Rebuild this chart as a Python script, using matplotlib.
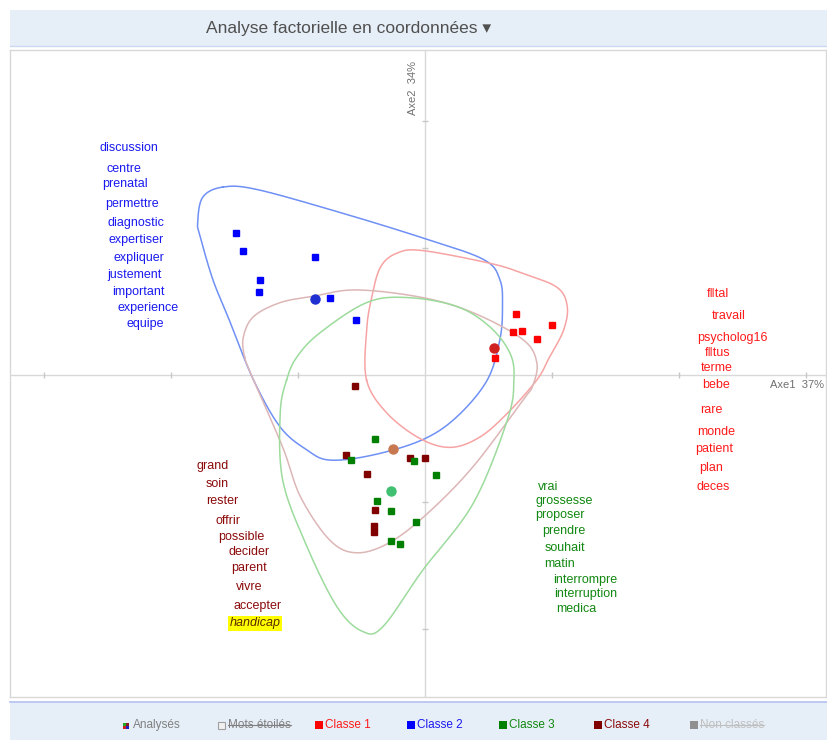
import numpy as np
import matplotlib
matplotlib.use("Agg")
import matplotlib.pyplot as plt
from matplotlib.patches import Rectangle
from matplotlib.transforms import offset_copy

# ---------------- data (factor coordinates) ----------------
blue_x = [-1.49, -1.43, -0.87, -1.30, -1.31, -0.75, -0.54]
blue_y = [1.12, 0.98, 0.93, 0.75, 0.65, 0.61, 0.43]
blue_c = (-0.87, 0.60)

red_x = [0.72, 1.00, 0.69, 0.76, 0.88, 0.55]
red_y = [0.48, 0.39, 0.34, 0.35, 0.28, 0.13]
red_c = (0.54, 0.21)

dred_x = [-0.55, -0.62, -0.12, 0.00, -0.46, -0.39, -0.40, -0.40]
dred_y = [-0.09, -0.63, -0.65, -0.65, -0.78, -1.06, -1.19, -1.24]
dred_c = (-0.25, -0.58)

green_x = [-0.39, -0.58, -0.09, 0.09, -0.38, -0.27, -0.07, -0.27, -0.20]
green_y = [-0.50, -0.67, -0.68, -0.79, -0.99, -1.07, -1.16, -1.31, -1.33]
green_c = (-0.27, -0.91)

# class envelopes (outline vertices)
blue_env_x = [-1.59, -1.32, -0.67, -0.02, 0.46, 0.59, 0.61, 0.59, 0.49, 0.25, -0.02,
              -0.41, -0.75, -0.93, -1.14, -1.35, -1.54, -1.67, -1.77, -1.79, -1.75]
blue_env_y = [1.48, 1.46, 1.28, 1.08, 0.91, 0.75, 0.54, 0.28, -0.04, -0.33, -0.51,
              -0.63, -0.67, -0.59, -0.41, -0.04, 0.43, 0.75, 1.09, 1.20, 1.40]
red_env_x = [-0.46, -0.46, -0.42, -0.35, -0.22, -0.02, 0.51, 0.77, 1.04, 1.12, 1.09,
             0.98, 0.88, 0.65, 0.43, 0.20, -0.04, -0.30]
red_env_y = [-0.04, 0.35, 0.61, 0.85, 0.96, 0.98, 0.88, 0.80, 0.69, 0.54, 0.35,
             0.14, -0.04, -0.30, -0.49, -0.57, -0.50, -0.30]
dred_env_x = [-1.42, -1.43, -1.35, -1.14, -0.88, -0.54, -0.02, 0.38, 0.77, 0.88, 0.85,
              0.77, 0.38, 0.02, -0.28, -0.54, -0.75, -0.98, -1.12, -1.35]
dred_env_y = [0.14, 0.30, 0.46, 0.57, 0.62, 0.67, 0.61, 0.49, 0.28, 0.10, -0.08,
              -0.20, -0.72, -1.09, -1.32, -1.40, -1.30, -0.96, -0.57, -0.04]
green_env_x = [-1.09, -1.01, -0.83, -0.46, -0.14, 0.25, 0.51, 0.67, 0.70, 0.65, 0.38,
               -0.02, -0.33, -0.49, -0.69, -0.93, -1.12, -1.14]
green_env_y = [-0.04, 0.14, 0.33, 0.57, 0.61, 0.54, 0.38, 0.17, -0.04, -0.35, -1.01,
               -1.54, -1.98, -2.02, -1.83, -1.35, -0.83, -0.30]

# word labels
blue_words = ["discussion", "centre", "prenatal", "permettre", "diagnostic", "expertiser",
              "expliquer", "justement", "important", "experience", "equipe"]
blue_wx = [-2.56, -2.51, -2.54, -2.52, -2.50, -2.49, -2.45, -2.50, -2.46, -2.42, -2.35]
blue_wy = [1.80, 1.64, 1.52, 1.36, 1.21, 1.08, 0.94, 0.80, 0.67, 0.54, 0.42]

red_words = ["f\u2016tal", "travail", "psycholog16", "f\u2016tus", "terme", "bebe", "rare",
             "monde", "patient", "plan", "deces"]
red_wx = [2.22, 2.26, 2.14, 2.20, 2.17, 2.18, 2.17, 2.14, 2.13, 2.16, 2.14]
red_wy = [0.65, 0.48, 0.31, 0.19, 0.07, -0.06, -0.26, -0.43, -0.57, -0.72, -0.87]

dred_words = ["grand", "soin", "rester", "offrir", "possible", "decider", "parent",
              "vivre", "accepter", "handicap"]
dred_wx = [-1.80, -1.73, -1.72, -1.65, -1.63, -1.55, -1.53, -1.49, -1.51, -1.54]
dred_wy = [-0.70, -0.84, -0.98, -1.13, -1.26, -1.38, -1.50, -1.65, -1.80, -1.94]

green_words = ["vrai", "grossesse", "proposer", "prendre", "souhait", "matin",
               "interrompre", "interruption", "medica"]
green_wx = [0.89, 0.87, 0.87, 0.92, 0.94, 0.94, 1.01, 1.02, 1.03]
green_wy = [-0.87, -0.98, -1.09, -1.21, -1.35, -1.47, -1.60, -1.71, -1.83]

highlight_word = "handicap"
axis1_label = "Axe1  37%"
axis2_label = "Axe2  34%"
title = "Analyse factorielle en coordonnées \u25BE"
legend_labels = ["Analysés", "Mots étoilés", "Classe 1", "Classe 2", "Classe 3", "Classe 4", "Non classés"]

# ---------------- helpers ----------------
def smooth_closed(xs, ys, n=24):
    P = np.column_stack([xs, ys])
    m = len(P)
    t = np.linspace(0, 1, n, endpoint=False)[:, None]
    segs = []
    for i in range(m):
        p0, p1, p2, p3 = P[(i - 1) % m], P[i], P[(i + 1) % m], P[(i + 2) % m]
        pts = 0.5 * ((2 * p1) + (-p0 + p2) * t + (2 * p0 - 5 * p1 + 4 * p2 - p3) * t ** 2
                     + (-p0 + 3 * p1 - 3 * p2 + p3) * t ** 3)
        segs.append(pts)
    out = np.vstack(segs + [segs[0][:1]])
    return out[:, 0], out[:, 1]

W, H = 828, 740
fig = plt.figure(figsize=(W / 100, H / 100), dpi=100)
fig.patch.set_facecolor("white")

def fx(px):
    return px / W

def fy(py):
    return 1 - py / H

SANS = ["Liberation Sans", "DejaVu Sans"]

# header band
fig.patches.append(Rectangle((fx(10), fy(46)), fx(818), 36 / H, transform=fig.transFigure,
                             facecolor="#e6eef7", edgecolor="none", zorder=0))
fig.lines.append(plt.Line2D([fx(10), fx(828)], [fy(46), fy(46)], transform=fig.transFigure,
                            color="#cdd8f2", lw=1))
fig.text(fx(349), fy(28), title, ha="center", va="center", fontsize=12.5,
         color="#505050", family=SANS)

# footer band
fig.patches.append(Rectangle((fx(10), 0), fx(818), 38 / H, transform=fig.transFigure,
                             facecolor="#e6eef7", edgecolor="none", zorder=0))
fig.lines.append(plt.Line2D([fx(10), fx(828)], [fy(702), fy(702)], transform=fig.transFigure,
                            color="#b4c0f2", lw=1.2))

# main axes
x0, x1 = (10 - 425) / 127, (826 - 425) / 127
y0, y1 = (375 - 697) / 127, (375 - 50) / 127
ax = fig.add_axes([fx(10), fy(697), fx(816), 647 / H])
ax.set_xlim(x0, x1)
ax.set_ylim(y0, y1)
ax.set_xticks([])
ax.set_yticks([])
for s in ax.spines.values():
    s.set_color("#d8d8d8")
    s.set_linewidth(1)

ax.axhline(0, color="#d8d8d8", lw=1, zorder=1)
ax.axvline(0, color="#d8d8d8", lw=1, zorder=1)
tx = [v for v in range(-3, 4) if v != 0]
ax.plot(tx, [0] * len(tx), ls="none", marker="|", ms=4, color="#c8c8c8", mew=1, zorder=1)
ty = [v for v in range(-2, 3) if v != 0]
ax.plot([0] * len(ty), ty, ls="none", marker="_", ms=4, color="#c8c8c8", mew=1, zorder=1)

# envelopes
for ex, ey, col in [(blue_env_x, blue_env_y, "#6f90f5"), (red_env_x, red_env_y, "#f7a3a3"),
                    (dred_env_x, dred_env_y, "#ddb6b6"), (green_env_x, green_env_y, "#9cdb9c")]:
    sx, sy = smooth_closed(ex, ey)
    ax.plot(sx, sy, color=col, lw=1.1, zorder=2)

# points
ms_sq = 4.0
ax.plot(blue_x, blue_y, "s", color="#0000ff", ms=ms_sq, zorder=4)
ax.plot(red_x, red_y, "s", color="#ff0000", ms=ms_sq, zorder=4)
ax.plot(dred_x, dred_y, "s", color="#800000", ms=ms_sq, zorder=4)
ax.plot(green_x, green_y, "s", color="#008000", ms=ms_sq, zorder=4)
ax.plot(*blue_c, "o", color="#2030d0", ms=6.5, zorder=5)
ax.plot(*red_c, "o", color="#d02020", ms=6.5, zorder=5)
ax.plot(*dred_c, "o", color="#c87850", ms=6.5, zorder=5)
ax.plot(*green_c, "o", color="#40c070", ms=6.5, zorder=5)

# words (slightly lowered to match the reference's text baseline)
tr = offset_copy(ax.transData, fig=fig, x=0, y=-2, units="dots")
for words, wx, wy, col in [(blue_words, blue_wx, blue_wy, "#1a1af0"),
                           (red_words, red_wx, red_wy, "#ff1a1a"),
                           (dred_words, dred_wx, dred_wy, "#8b0a0a"),
                           (green_words, green_wx, green_wy, "#118811")]:
    for w, x, y in zip(words, wx, wy):
        if w == highlight_word:
            ax.text(x, y, w, ha="left", va="center", fontsize=9, style="italic",
                    color="#5a2a00", family=SANS, zorder=6, transform=tr,
                    bbox=dict(boxstyle="square,pad=0.12", facecolor="#ffff00", edgecolor="none"))
        else:
            ax.text(x, y, w, ha="left", va="center", fontsize=9,
                    color=col, family=SANS, zorder=6, transform=tr)

ax.text((770 - 425) / 127, (375 - 385) / 127, axis1_label, ha="left", va="center",
        fontsize=8, color="#707070", family=SANS)
ax.text((413 - 425) / 127, (375 - 88) / 127, axis2_label, ha="center", va="center",
        rotation=90, fontsize=8, color="#707070", family=SANS)

# footer legend
leg_y = fy(725)
leg_sq_x = [127, 222, 319, 411, 503, 598, 694]
leg_sq_col = [None, None, "#ff0000", "#0000ff", "#008000", "#800000", "#909090"]
leg_txt_col = ["#808080", "#808080", "#ff1a1a", "#1a1af0", "#118811", "#8b0a0a", "#c0c0c0"]
for i, lab in enumerate(legend_labels):
    sx = leg_sq_x[i]
    if i == 0:
        for dx, dy, c in [(0, 0, "#cc2222"), (3.5, 0, "#2222cc"), (0, 3.5, "#22aa22"), (3.5, 3.5, "#882222")]:
            fig.patches.append(Rectangle((fx(sx - 4 + dx), fy(729 - dy)), 3 / W, 3 / H,
                                         transform=fig.transFigure, facecolor=c, edgecolor="none"))
    elif i == 1:
        fig.patches.append(Rectangle((fx(sx - 4), fy(729)), 7.5 / W, 7.5 / H, transform=fig.transFigure,
                                     facecolor="#f0f0f0", edgecolor="#a0a0a0", lw=0.8))
    else:
        fig.patches.append(Rectangle((fx(sx - 4), fy(729)), 8 / W, 8 / H, transform=fig.transFigure,
                                     facecolor=leg_sq_col[i], edgecolor="none"))
    t = fig.text(fx(sx + 6), leg_y, lab, ha="left", va="center", fontsize=8.5,
                 color=leg_txt_col[i], family=SANS)
    if i in (1, 6):
        fig.canvas.draw()
        bb = t.get_window_extent()
        yy = (bb.y0 + bb.y1) / 2 / fig.bbox.height
        fig.lines.append(plt.Line2D([bb.x0 / fig.bbox.width, bb.x1 / fig.bbox.width], [yy, yy],
                                    transform=fig.transFigure, color=leg_txt_col[i], lw=0.8))

fig.savefig("out.png", dpi=100)
